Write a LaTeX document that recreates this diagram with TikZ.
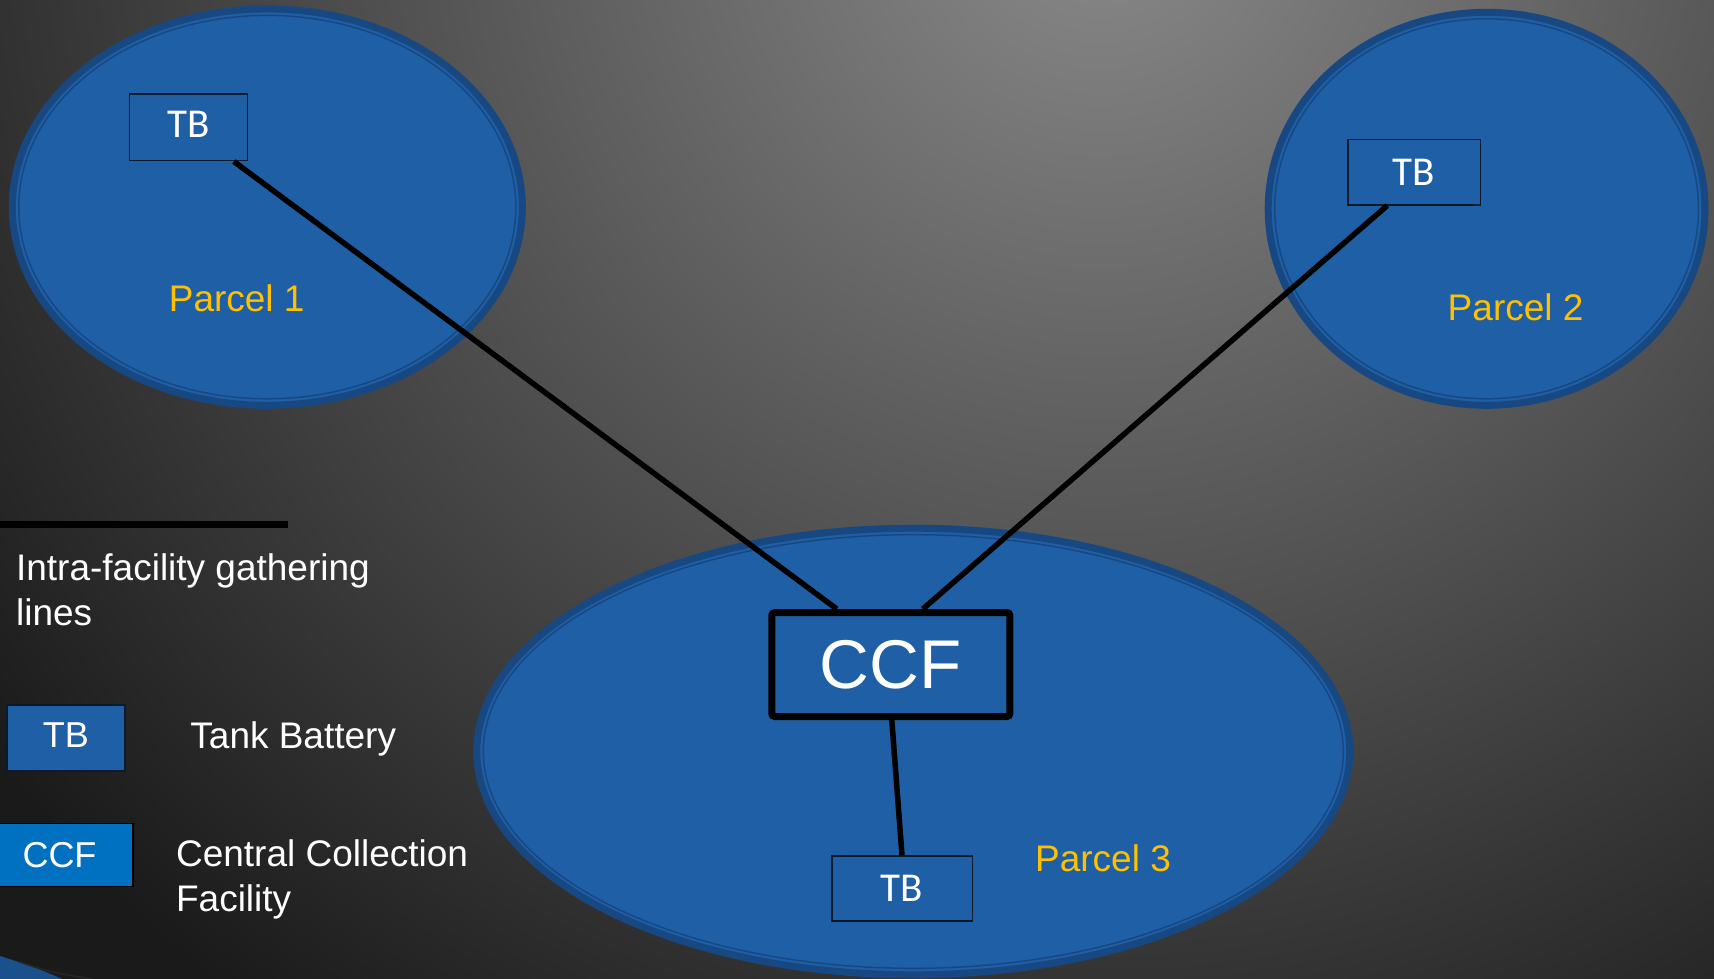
\documentclass[tikz,border=0pt]{standalone}
\usepackage{fontspec}
\setmainfont{Liberation Sans}
\newfontfamily\tbfont{Carlito}
\usetikzlibrary{calc}
\definecolor{parcelblue}{RGB}{31,95,166}
\definecolor{parcelrim}{RGB}{23,72,130}
\definecolor{ccfblue}{RGB}{0,112,192}
\definecolor{boxline}{RGB}{12,26,44}
\definecolor{parcelgold}{RGB}{255,192,0}
\definecolor{bglight}{RGB}{138,138,138}
\definecolor{bgdark}{RGB}{26,26,26}

\begin{document}
\begin{tikzpicture}[x=0.5pt,y=0.5pt,yscale=-1,xscale=1,
  parcel/.style={fill=parcelblue,draw=parcelrim,line width=3.5pt},
  parcelring/.style={draw=parcelrim,line width=0.75pt},
  parcellabel/.style={text=parcelgold,font=\fontsize{18.5}{22.5}\selectfont,inner sep=0pt},
  tbbox/.style={draw=boxline,fill=parcelblue,line width=0.8pt,text=white,font=\tbfont\fontsize{20.5}{24}\selectfont,minimum height=32.5pt,inner sep=0pt},
  ccfbox/.style={draw=black,fill=parcelblue,line width=3.5pt,rounded corners=1.5pt,text=white,font=\fontsize{34.5}{40}\selectfont,minimum width=119pt,minimum height=52pt,inner sep=0pt},
  legendbox/.style={draw=boxline,line width=0.8pt,text=white,font=\fontsize{18}{22}\selectfont,inner sep=0pt},
  legendtext/.style={text=white,font=\fontsize{18.5}{22.5}\selectfont,inner sep=0pt,align=left},
  gathering/.style={draw=black,line width=2.75pt}]
\useasboundingbox (0,0) rectangle (1714,979);
% background
\begin{scope}
\clip (0,0) rectangle (1714,979);
\fill[bgdark] (0,0) rectangle (1714,979);
\shade[inner color=bglight,outer color=bgdark] (1100,-100) circle (1400);
\end{scope}
\fill[parcelblue!85!black] (0,956) .. controls (25,964) and (45,971) .. (62,979) -- (0,979) -- cycle;
\draw[black!85,line width=0.8pt] (20,962) .. controls (50,972) .. (92,979);
% parcels
\draw[parcel] (267.3,207.1) ellipse [x radius=255,y radius=198.2];
\draw[parcelring] (267.3,207.1) ellipse [x radius=248.5,y radius=191.7];
\draw[parcel] (1486.6,208.8) ellipse [x radius=218.4,y radius=196.5];
\draw[parcelring] (1486.6,208.8) ellipse [x radius=211.9,y radius=190];
\draw[parcel] (913.3,751.5) ellipse [x radius=436.5,y radius=223.3];
\draw[parcelring] (913.3,751.5) ellipse [x radius=430,y radius=216.8];
% Text Node
\draw (236.7,298.4) node (parcelA) [parcellabel] {Parcel 1};
% Text Node
\draw (1515.6,307.5) node (parcelB) [parcellabel] {Parcel 2};
% Text Node
\draw (1103,858) node (parcelC) [parcellabel] {Parcel 3};
% Text Node
\draw (188.6,127.4) node (tbA) [tbbox,minimum width=59pt,minimum height=33.3pt,text height=13.2pt,text depth=3.4pt] {TB};
% Text Node
\draw (1414,172.2) node (tbB) [tbbox,minimum width=66.3pt] {TB};
% Text Node
\draw (902,888.7) node (tbC) [tbbox,minimum width=70.3pt] {TB};
% Text Node
\draw (890.8,664.5) node (ccf) [ccfbox] {CCF};
% gathering lines
\draw[gathering] ($(tbA.south east)+(-14.5,0)$) -- ($(ccf.north)+(-54,0)$);
\draw[gathering] ($(tbB.south)+(-26.7,0)$) -- ($(ccf.north)+(32,0)$);
\draw[gathering] ($(ccf.south)+(1,0)$) -- (tbC.north);
% legend
\draw[draw=black,line width=3.25pt] (0,524.5) -- (288,524.5);
% Text Node
\draw (15.7,553) node (lgdlines) [legendtext,anchor=north west] {Intra-facility gathering\\lines};
% Text Node
\draw (65.8,737.7) node (lgdtb) [legendbox,fill=parcelblue,minimum width=59pt,minimum height=33pt,text height=12.9pt,text depth=3.2pt] {TB};
% Text Node
\draw (190,748.3) node (lgdtbtext) [legendtext,anchor=base west] {Tank Battery};
% Text Node
\draw (59.5,855) node (lgdccf) [legendbox,draw=black,fill=ccfblue,minimum width=73.5pt,minimum height=31.5pt] {CCF};
% Text Node
\draw (175.7,839) node (lgdccftext) [legendtext,anchor=north west] {Central Collection\\Facility};
\end{tikzpicture}
\end{document}
